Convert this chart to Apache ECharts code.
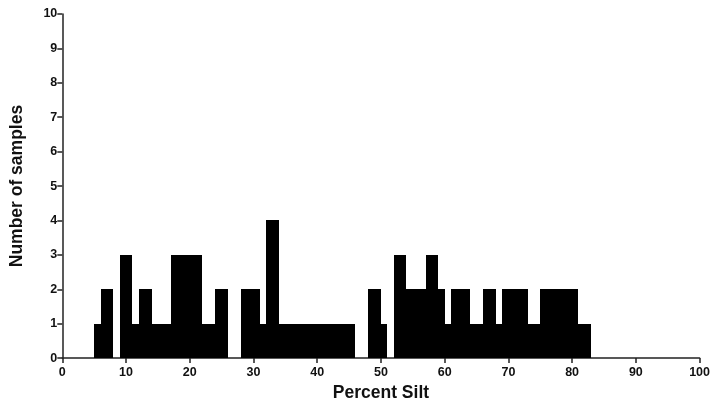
<!DOCTYPE html>
<html>
<head>
<meta charset="utf-8">
<script src="https://cdn.jsdelivr.net/npm/echarts@6/dist/echarts.min.js"></script>
<style>
  html, body { margin: 0; padding: 0; background: #fff; }
  #chart { width: 713px; height: 407px; }
</style>
</head>
<body>
<div id="chart"></div>
<script>
// histogram bins, each 1 percent wide, starting at binStart
const binStart = [5, 6, 7, 8, 9, 10, 11, 12, 13, 14, 15, 16, 17, 18, 19, 20, 21, 22, 23, 24,
  25, 26, 27, 28, 29, 30, 31, 32, 33, 34, 35, 36, 37, 38, 39, 40, 41, 42, 43, 44,
  45, 46, 47, 48, 49, 50, 51, 52, 53, 54, 55, 56, 57, 58, 59, 60, 61, 62, 63, 64,
  65, 66, 67, 68, 69, 70, 71, 72, 73, 74, 75, 76, 77, 78, 79, 80, 81, 82]
const samples = [1, 2, 2, 0, 3, 3, 1, 2, 2, 1, 1, 1, 3, 3, 3, 3, 3, 1, 1, 2,
  2, 0, 0, 2, 2, 2, 1, 4, 4, 1, 1, 1, 1, 1, 1, 1, 1, 1, 1, 1,
  1, 0, 0, 2, 2, 1, 0, 3, 3, 2, 2, 2, 3, 3, 2, 1, 2, 2, 2, 1,
  1, 2, 2, 1, 2, 2, 2, 2, 1, 1, 2, 2, 2, 2, 2, 2, 1, 1]
const binWidth = 1

const xTicks = [0, 10, 20, 30, 40, 50, 60, 70, 80, 90, 100]
const yTicks = [0, 1, 2, 3, 4, 5, 6, 7, 8, 9, 10]

const chart = echarts.init(document.getElementById('chart'))

const font = 'Liberation Sans, Arial, sans-serif'

const option = {
  animation: false,
  grid: {
    left: 62.3,
    right: 12.7,
    top: 14,
    bottom: 47.5
  },
  xAxis: {
    type: 'value',
    min: xTicks[0],
    max: xTicks[xTicks.length - 1],
    interval: 10,
    name: 'Percent Silt',
    nameLocation: 'middle',
    nameGap: 23,
    nameTextStyle: { fontFamily: font, fontWeight: 'bold', fontSize: 17.5, color: '#111' },
    axisLine: { show: true, onZero: false, lineStyle: { color: '#222', width: 1.5 } },
    axisTick: { show: true, length: 5, lineStyle: { color: '#222', width: 1.5 } },
    axisLabel: { margin: 8, fontFamily: font, fontWeight: 'bold', fontSize: 12.5, color: '#111' },
    splitLine: { show: false }
  },
  yAxis: {
    type: 'value',
    min: yTicks[0],
    max: yTicks[yTicks.length - 1],
    interval: 1,
    name: 'Number of samples',
    nameLocation: 'middle',
    nameGap: 36,
    nameRotate: 90,
    nameTextStyle: { fontFamily: font, fontWeight: 'bold', fontSize: 17.5, color: '#111' },
    axisLine: { show: true, lineStyle: { color: '#222', width: 1.5 } },
    axisTick: { show: true, length: 5, lineStyle: { color: '#222', width: 1.5 } },
    axisLabel: { margin: 5, fontFamily: font, fontWeight: 'bold', fontSize: 12.5, color: '#111' },
    splitLine: { show: false }
  },
  series: [
    {
      type: 'custom',
      data: binStart.map((x, i) => [x, samples[i]]),
      renderItem: (params, api) => {
        const x0 = api.value(0)
        const n = api.value(1)
        if (!n) return null
        const p0 = api.coord([x0, 0])
        const p1 = api.coord([x0 + binWidth, n])
        // snap edges to whole pixels so neighbouring bins join without seams
        const left = Math.round(p0[0])
        const right = Math.round(p1[0])
        const top = Math.round(p1[1])
        const bottom = Math.round(p0[1])
        return {
          type: 'rect',
          shape: { x: left, y: top, width: right - left, height: bottom - top },
          style: { fill: '#000' }
        }
      },
      z: 1
    }
  ]
}

chart.setOption(option)
</script>
</body>
</html>
